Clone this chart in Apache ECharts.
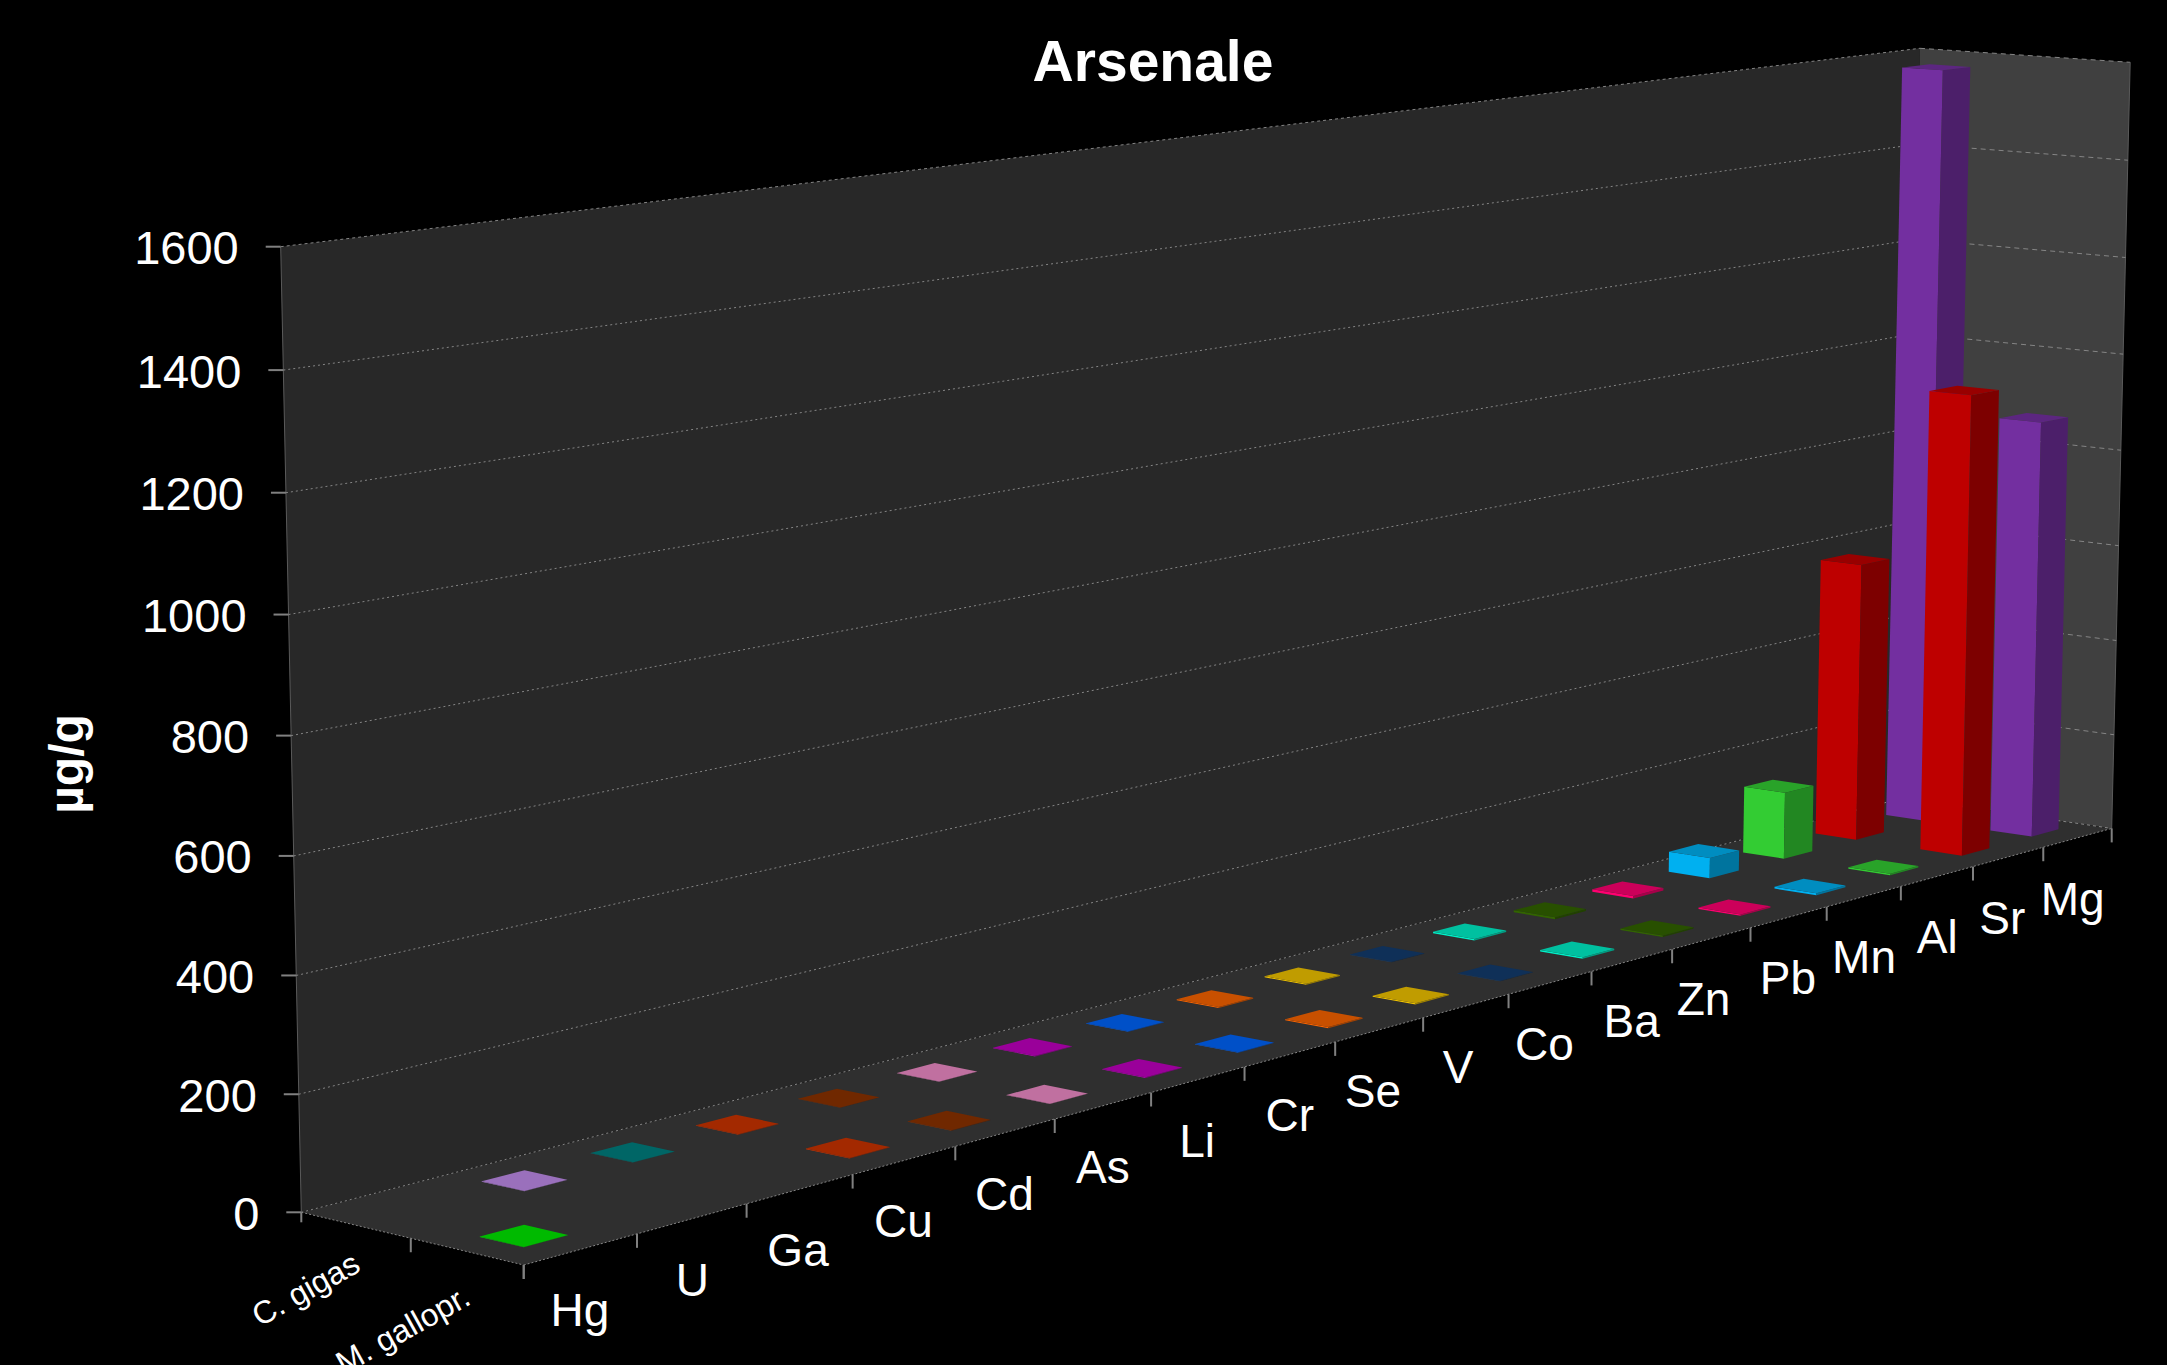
<!DOCTYPE html>
<html>
<head>
<meta charset="utf-8">
<title>Arsenale</title>
<style>
  html, body { margin: 0; padding: 0; background: #000; }
  #chart { width: 2167px; height: 1365px; }
</style>
<script src="https://cdn.jsdelivr.net/npm/echarts@6/dist/echarts.min.js"></script>
</head>
<body>
<div id="chart"></div>
<script>
var categories = ['Hg', 'U', 'Ga', 'Cu', 'Cd', 'As', 'Li', 'Cr', 'Se', 'V', 'Co', 'Ba', 'Zn', 'Pb', 'Mn', 'Al', 'Sr', 'Mg'];
var rows = ['C. gigas', 'M. gallopr.'];
var yTicks = [0, 200, 400, 600, 800, 1000, 1200, 1400, 1600];

// back row, nothing measured for Hg
var gigas = [null, 0.5, 0.5, 1, 0.5, 0.5, 1, 1, 2, 2, 1, 3, 4, 5, 42, 138, 579, 1577];
// front row, nothing measured for U and Ga
var galloprovincialis = [0.5, null, null, 1, 1, 0.5, 1, 1, 2, 2, 1, 3, 3, 3, 4, 3, 954, 870];

var metalColors = ['#00E800', '#C08CEB', '#008080', '#CC3300', '#8C3200', '#F08CC8', '#C000C0', '#0064FA', '#FA6400', '#F0C300', '#133C6E', '#00F0C8', '#326400', '#FF0070', '#00B0F0', '#33CC33', '#BE0000', '#732FA0'];

var W = 2167, H = 1365;

// corners of the plot box on screen: u runs along the metals, v towards the viewer
var floorQuad = [[301.3, 1212.3], [1903, 798], [2111.7, 828.4], [523.7, 1265]];
var topQuad = [[280.7, 246.7], [1920, 48.3], [2130.2, 62.3], [506, 271]];
var heightBow = 0.975;

// hand nudges, the labels in the picture do not sit evenly
var labelNudgeX = [1, 2, 0, 1, 1, 1.5, 1, 1.5, -4.5, -6, -4, 1.5, -6, 1, 2, 2, -4, -3];

function quadMap(q) {
  var dx1 = q[1][0] - q[2][0], dx2 = q[3][0] - q[2][0], sx = q[0][0] - q[1][0] + q[2][0] - q[3][0];
  var dy1 = q[1][1] - q[2][1], dy2 = q[3][1] - q[2][1], sy = q[0][1] - q[1][1] + q[2][1] - q[3][1];
  var d = dx1 * dy2 - dx2 * dy1;
  var g = (sx * dy2 - dx2 * sy) / d;
  var h = (dx1 * sy - sx * dy1) / d;
  return function(u, v) {
    var n = g * u + h * v + 1;
    return [
      (q[1][0] - q[0][0] + g * q[1][0]) * u / n + (q[3][0] - q[0][0] + h * q[3][0]) * v / n + q[0][0] / n,
      (q[1][1] - q[0][1] + g * q[1][1]) * u / n + (q[3][1] - q[0][1] + h * q[3][1]) * v / n + q[0][1] / n
    ];
  };
}
var floorMap = quadMap(floorQuad);
var topMap = quadMap(topQuad);

function project(u, v, w) {
  var a = floorMap(u, v), b = topMap(u, v);
  var s = w * heightBow / (1 + (heightBow - 1) * w);
  return [a[0] + (b[0] - a[0]) * s, a[1] + (b[1] - a[1]) * s];
}

function shade(hex, k) {
  var n = parseInt(hex.slice(1), 16);
  var r = Math.round((n >> 16) * k), g = Math.round(((n >> 8) & 255) * k), b = Math.round((n & 255) * k);
  return 'rgb(' + r + ',' + g + ',' + b + ')';
}

function poly(points, fill) {
  return { type: 'polygon', shape: { points: points }, style: { fill: fill } };
}
function dotted(a, b, dash) {
  return {
    type: 'line',
    shape: { x1: a[0], y1: a[1], x2: b[0], y2: b[1] },
    style: { stroke: '#858585', lineWidth: 1, lineDash: dash }
  };
}
function solid(a, b, color, width) {
  return {
    type: 'line',
    shape: { x1: a[0], y1: a[1], x2: b[0], y2: b[1] },
    style: { stroke: color, lineWidth: width }
  };
}
function label(text, x, y, size, align, rotation, weight) {
  return {
    type: 'text',
    x: x,
    y: y,
    rotation: rotation || 0,
    style: {
      text: text,
      x: 0,
      y: 0,
      fill: '#fff',
      fontFamily: 'Liberation Sans',
      fontSize: size,
      fontWeight: weight || 'normal',
      textAlign: align,
      textVerticalAlign: 'middle'
    }
  };
}

function renderWalls() {
  var c = [
    poly([project(0, 0, 0), project(1, 0, 0), project(1, 0, 1), project(0, 0, 1)], '#282828'),
    poly([project(1, 0, 0), project(1, 1, 0), project(1, 1, 1), project(1, 0, 1)], '#404040'),
    poly([project(0, 0, 0), project(1, 0, 0), project(1, 1, 0), project(0, 1, 0)], '#2f2f2f'),
    dotted(project(0, 0, 1), project(1, 0, 1), [3, 3]),
    dotted(project(1, 0, 1), project(1, 1, 1), [5, 4]),
    dotted(project(0, 0, 0), project(1, 0, 0), [2, 3]),
    dotted(project(1, 0, 0), project(1, 1, 0), [3, 3]),
    dotted(project(0, 0, 0), project(0, 1, 0), [2, 2]),
    dotted(project(0, 1, 0), project(1, 1, 0), [2, 2]),
    solid(project(0, 0, 0), project(0, 0, 1), '#5a5a5a', 1),
    solid(project(1, 1, 0), project(1, 1, 1), '#5a5a5a', 1)
  ];
  return { type: 'group', children: c };
}

function renderYTick(params, api) {
  var w = 1 - api.coord([0, api.value(1)])[1] / H;
  var left = project(0, 0, w);
  var right = project(1, 0, w);
  var front = project(1, 1, w);
  var c = [
    solid([left[0] - 15, left[1]], left, '#808080', 2),
    label(String(yTicks[params.dataIndex]), left[0] - 42, left[1] + 1, 47, 'right')
  ];
  if (w > 0 && w < 0.999) {
    c.push(dotted(left, right, [2, 3]));
    c.push(dotted(right, front, [5, 4]));
  }
  return { type: 'group', children: c };
}

function renderCategory(params, api) {
  var i = params.dataIndex;
  var p = api.coord([api.value(0), 0]);
  var size = api.size([1, 0])[0] / W;
  var u = p[0] / W;
  var mid = project(u, 1, 0);
  var tick = project(u - size / 2, 1, 0);
  var c = [
    solid(tick, [tick[0], tick[1] + 14], '#808080', 2),
    label(categories[i], mid[0] - 2 + labelNudgeX[i], mid[1] + 61, 46, 'center')
  ];
  if (i === categories.length - 1) {
    var end = project(u + size / 2, 1, 0);
    c.push(solid(end, [end[0], end[1] + 14], '#808080', 2));
  }
  return { type: 'group', children: c };
}

function renderRow(params) {
  var i = params.dataIndex;
  var n = rows.length;
  var mid = project(0, (i + 0.5) / n, 0);
  var tick = project(0, (i + 1) / n, 0);
  var c = [
    solid(tick, [tick[0], tick[1] + 14], '#808080', 2),
    label(rows[i], mid[0] - 50 - 14 * i, mid[1] + 64 + 14 * i, 32, 'center', Math.PI / 6.2)
  ];
  if (i === 0) {
    var start = project(0, 0, 0);
    c.push(solid(start, [start[0], start[1] + 10], '#808080', 2));
  }
  return { type: 'group', children: c };
}

function barRenderer(row) {
  var barShare = 0.39;
  return function(params, api) {
    var i = api.value(0);
    var p = api.coord([i, api.value(1)]);
    var size = api.size([1, 0])[0] / W;
    var u = p[0] / W;
    var w = 1 - p[1] / H;
    var u0 = u - size * barShare / 2, u1 = u + size * barShare / 2;
    var vc = (row + 0.5) / rows.length, vh = barShare / rows.length / 2;
    var v0 = vc - vh, v1 = vc + vh;
    var col = metalColors[i];
    var z = 100 - i;
    var left = poly([project(u0, v0, 0), project(u0, v1, 0), project(u0, v1, w), project(u0, v0, w)], col);
    var front = poly([project(u0, v1, 0), project(u1, v1, 0), project(u1, v1, w), project(u0, v1, w)], shade(col, 0.66));
    var top = poly([project(u0, v0, w), project(u0, v1, w), project(u1, v1, w), project(u1, v0, w)], shade(col, 0.8));
    left.z2 = front.z2 = top.z2 = z;
    return { type: 'group', children: [left, front, top] };
  };
}

function barData(values) {
  var out = [];
  values.forEach(function(v, i) {
    if (v !== null) out.push([i, v]);
  });
  return out;
}

var chart = echarts.init(document.getElementById('chart'), null, { renderer: 'svg' });
chart.setOption({
  animation: false,
  backgroundColor: '#000',
  title: {
    text: 'Arsenale',
    left: 1148,
    top: 27,
    textAlign: 'center',
    textStyle: { color: '#fff', fontFamily: 'Liberation Sans', fontSize: 57, fontWeight: 'bold' }
  },
  grid: { left: 0, right: 0, top: 0, bottom: 0 },
  xAxis: { type: 'category', data: categories, show: false },
  yAxis: { type: 'value', min: 0, max: 1600, interval: 200, show: false, splitLine: { show: false } },
  graphic: [{
    type: 'text',
    x: 66,
    y: 764,
    rotation: Math.PI / 2,
    style: {
      text: 'µg/g',
      fill: '#fff',
      fontFamily: 'Liberation Sans',
      fontSize: 48,
      fontWeight: 'bold',
      textAlign: 'center',
      textVerticalAlign: 'middle'
    }
  }],
  series: [
    { type: 'custom', name: 'walls', silent: true, z: 1, clip: false, data: [[0, 0]], renderItem: renderWalls },
    { type: 'custom', name: 'y axis', silent: true, z: 2, clip: false, data: yTicks.map(function(t) { return [0, t]; }), renderItem: renderYTick },
    { type: 'custom', name: 'x axis', silent: true, z: 2, clip: false, data: categories.map(function(c, i) { return [i, 0]; }), renderItem: renderCategory },
    { type: 'custom', name: 'rows', silent: true, z: 2, clip: false, data: rows.map(function(r, i) { return [i, 0]; }), renderItem: renderRow },
    { type: 'custom', name: rows[0], silent: true, z: 3, clip: false, data: barData(gigas), renderItem: barRenderer(0) },
    { type: 'custom', name: rows[1], silent: true, z: 4, clip: false, data: barData(galloprovincialis), renderItem: barRenderer(1) }
  ]
});
</script>
</body>
</html>
